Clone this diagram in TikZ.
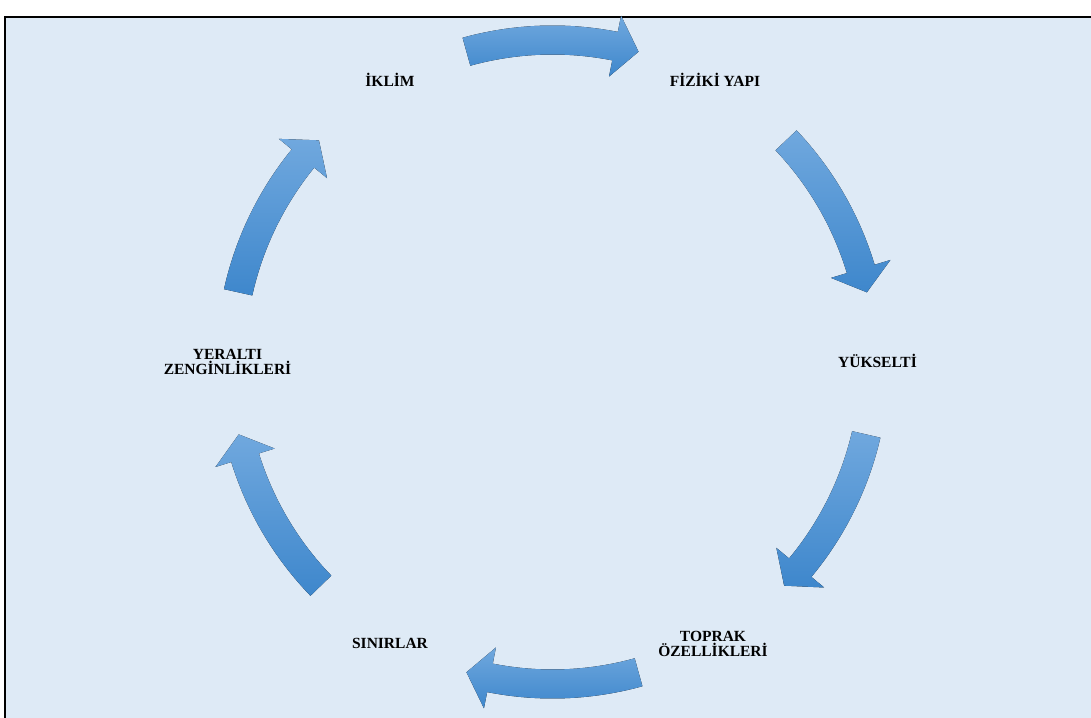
\documentclass[tikz,border=0pt]{standalone}
\usepackage{fontspec}
\setmainfont{Liberation Serif}
\definecolor{bgblue}{HTML}{DEEAF6}
\definecolor{arrlight}{RGB}{112,168,222}
\definecolor{arrdark}{RGB}{62,135,204}
\begin{document}
\begin{tikzpicture}[x=1pt,y=1pt,
  lbl/.style={font=\fontsize{15.5}{15}\selectfont\bfseries, align=center, inner sep=0pt},
  oneline/.style={text height=10.3pt, text depth=0pt},
  cyclearrow/.style={top color=arrlight, bottom color=arrdark, draw=none}]
\useasboundingbox (0,0) rectangle (1091,717);
\fill[white] (0,0) rectangle (1091,717);
\draw[line width=2pt, fill=bgblue] (5,700) rectangle (1110,-20);
\coordinate (O) at (552.5,355);
\foreach \c in {90,28,-28.5,-90,-151.5,152}{
  \fill[cyclearrow, shift={(O)}]
    ({\c+15.5}:336.5) arc[start angle={\c+15.5}, end angle={\c-11.2}, radius=336.5]
    -- ({\c-11.2}:353) -- ({\c-15.5}:322) -- ({\c-11.2}:291)
    -- ({\c-11.2}:307.5) arc[start angle={\c-11.2}, end angle={\c+15.5}, radius=307.5]
    -- cycle;
}
\node[lbl,oneline] (iklim) at (390,636) {İKLİM};
\node[lbl,oneline] (fiziki) at (715,636) {FİZİKİ YAPI};
\node[lbl,oneline] (yukselti) at (877.5,355) {YÜKSELTİ};
\node[lbl] (toprak) at (713,73.5) {TOPRAK\\ÖZELLİKLERİ};
\node[lbl,oneline] (sinirlar) at (390,74) {SINIRLAR};
\node[lbl] (yeralti) at (227.5,355) {YERALTI\\ZENGİNLİKLERİ};
\end{tikzpicture}
\end{document}
